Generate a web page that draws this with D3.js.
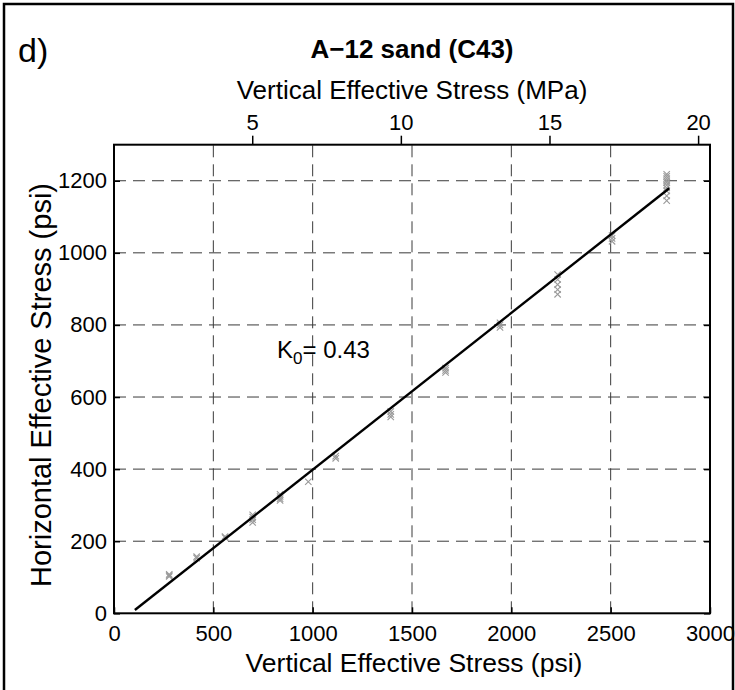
<!DOCTYPE html>
<html>
<head>
<meta charset="utf-8">
<script src="https://cdn.jsdelivr.net/npm/d3@7"></script>
<style>
  html, body { margin: 0; padding: 0; background: #fff; }
  svg { display: block; }
  text { font-family: "Liberation Sans", Arial, Helvetica, sans-serif; fill: #000; }
</style>
</head>
<body>
<svg id="chart" width="735" height="690"></svg>
<script>
// ---- data ----
const vertPsi = [278, 278, 278, 416, 416, 559, 559, 698, 698, 698, 698, 836, 836, 836, 836, 978,
  1116, 1116, 1393, 1393, 1393, 1669, 1669, 1669, 1943, 1943, 1943,
  2233, 2233, 2233, 2233, 2233, 2507, 2507, 2507,
  2782, 2782, 2782, 2782, 2782, 2782, 2782, 2782, 2782, 2782];
const horizPsi = [102, 105, 108, 153, 157, 210, 213, 252, 260, 267, 273, 313, 318, 324, 330, 365,
  430, 436, 545, 552, 560, 668, 674, 680, 793, 800, 806,
  885, 898, 912, 926, 940, 1032, 1040, 1048,
  1145, 1158, 1172, 1180, 1188, 1195, 1200, 1206, 1212, 1218];
const fitVert = [105, 2795];
const fitHoriz = [9, 1179];
const xTicks = [0, 500, 1000, 1500, 2000, 2500, 3000];
const yTicks = [0, 200, 400, 600, 800, 1000, 1200];
const mpaTicks = [5, 10, 15, 20];
const xDomain = [0, 3000];
const yDomain = [0, 1300];
const mpaDomain = [0.35, 20.4];
const titleText = "A\u221212 sand (C43)";
const panelLabel = "d)";
const xLabel = "Vertical Effective Stress (psi)";
const topLabel = "Vertical Effective Stress (MPa)";
const yLabel = "Horizontal Effective Stress (psi)";
const k0Value = "0.43";

// ---- layout ----
const L = 114, R = 710, T = 144.7, B = 613.3;
const svg = d3.select("#chart");

const x = d3.scaleLinear().domain(xDomain).range([L, R]);
const y = d3.scaleLinear().domain(yDomain).range([B, T]);
const xm = d3.scaleLinear().domain(mpaDomain).range([L, R]);

// outer panel frame
svg.append("path")
  .attr("d", "M4,690 L4,4 L733,4 L733,690")
  .attr("fill", "none").attr("stroke", "#000").attr("stroke-width", 2.5);

// grid
const grid = svg.append("g").attr("stroke", "#3a3a3a").attr("stroke-width", 1)
  .attr("stroke-dasharray", "12,7").attr("fill", "none");
grid.selectAll("line.v").data(xTicks.filter(d => d > 0 && d < 3000)).join("line")
  .attr("class", "v")
  .attr("x1", d => x(d)).attr("x2", d => x(d)).attr("y1", B).attr("y2", T);
grid.selectAll("line.h").data(yTicks.filter(d => d > 0)).join("line")
  .attr("class", "h")
  .attr("x1", L).attr("x2", R).attr("y1", d => y(d)).attr("y2", d => y(d));

// axes (MATLAB-like)
const axisFont = "22px";
const gBottom = svg.append("g").attr("transform", `translate(0,${B})`)
  .call(d3.axisBottom(x).tickValues(xTicks).tickSize(-6).tickPadding(12).tickFormat(d3.format("d")));
const gLeft = svg.append("g").attr("transform", `translate(${L},0)`)
  .call(d3.axisLeft(y).tickValues(yTicks).tickSize(-6).tickPadding(7).tickFormat(d3.format("d")));
const gRight = svg.append("g").attr("transform", `translate(${R},0)`)
  .call(d3.axisRight(y).tickValues(yTicks).tickSize(-6).tickFormat(""));
const gTop = svg.append("g").attr("transform", `translate(0,${T})`)
  .call(d3.axisTop(xm).tickValues(mpaTicks).tickSize(9).tickPadding(6).tickFormat(d3.format("d")));
[gBottom, gLeft, gRight, gTop].forEach(g => {
  g.select(".domain").remove();
  g.selectAll(".tick line").attr("stroke", "#000").attr("stroke-width", 1.5);
  g.selectAll(".tick text").style("font-size", axisFont).attr("fill", "#000")
    .style("font-family", '"Liberation Sans", Arial, sans-serif');
});
gBottom.selectAll(".tick text").attr("dy", "0.71em");

// box
svg.append("rect").attr("x", L).attr("y", T).attr("width", R - L).attr("height", B - T)
  .attr("fill", "none").attr("stroke", "#000").attr("stroke-width", 2);

// data markers (x)
const s = 3.2;
svg.append("g").attr("stroke", "#9a9a9a").attr("stroke-width", 1.1).attr("fill", "none")
  .selectAll("path").data(vertPsi.map((v, i) => [v, horizPsi[i]])).join("path")
  .attr("d", d => {
    const cx = x(d[0]), cy = y(d[1]);
    return `M${cx - s},${cy - s}L${cx + s},${cy + s}M${cx - s},${cy + s}L${cx + s},${cy - s}`;
  });

// fit line
svg.append("path")
  .datum(fitVert.map((v, i) => [v, fitHoriz[i]]))
  .attr("d", d3.line().x(d => x(d[0])).y(d => y(d[1])))
  .attr("fill", "none").attr("stroke", "#000").attr("stroke-width", 2.4);

// K0 annotation
const kt = svg.append("text").attr("x", 277).attr("y", 358).style("font-size", "24px");
kt.append("tspan").text("K");
kt.append("tspan").attr("dy", 6).style("font-size", "17px").text("0");
kt.append("tspan").attr("dy", -6).text("= " + k0Value);

// labels
svg.append("text").attr("x", 18).attr("y", 62).style("font-size", "34px").text(panelLabel);
svg.append("text").attr("x", (L + R) / 2).attr("y", 58).attr("text-anchor", "middle")
  .style("font-size", "26px").style("font-weight", "bold").text(titleText);
svg.append("text").attr("x", (L + R) / 2).attr("y", 99).attr("text-anchor", "middle")
  .style("font-size", "26px").text(topLabel);
svg.append("text").attr("x", (L + R) / 2 + 2).attr("y", 672).attr("text-anchor", "middle")
  .style("font-size", "26.5px").text(xLabel);
svg.append("text").attr("transform", `translate(51,385) rotate(-90)`)
  .attr("text-anchor", "middle").style("font-size", "29px").text(yLabel);
</script>
</body>
</html>
